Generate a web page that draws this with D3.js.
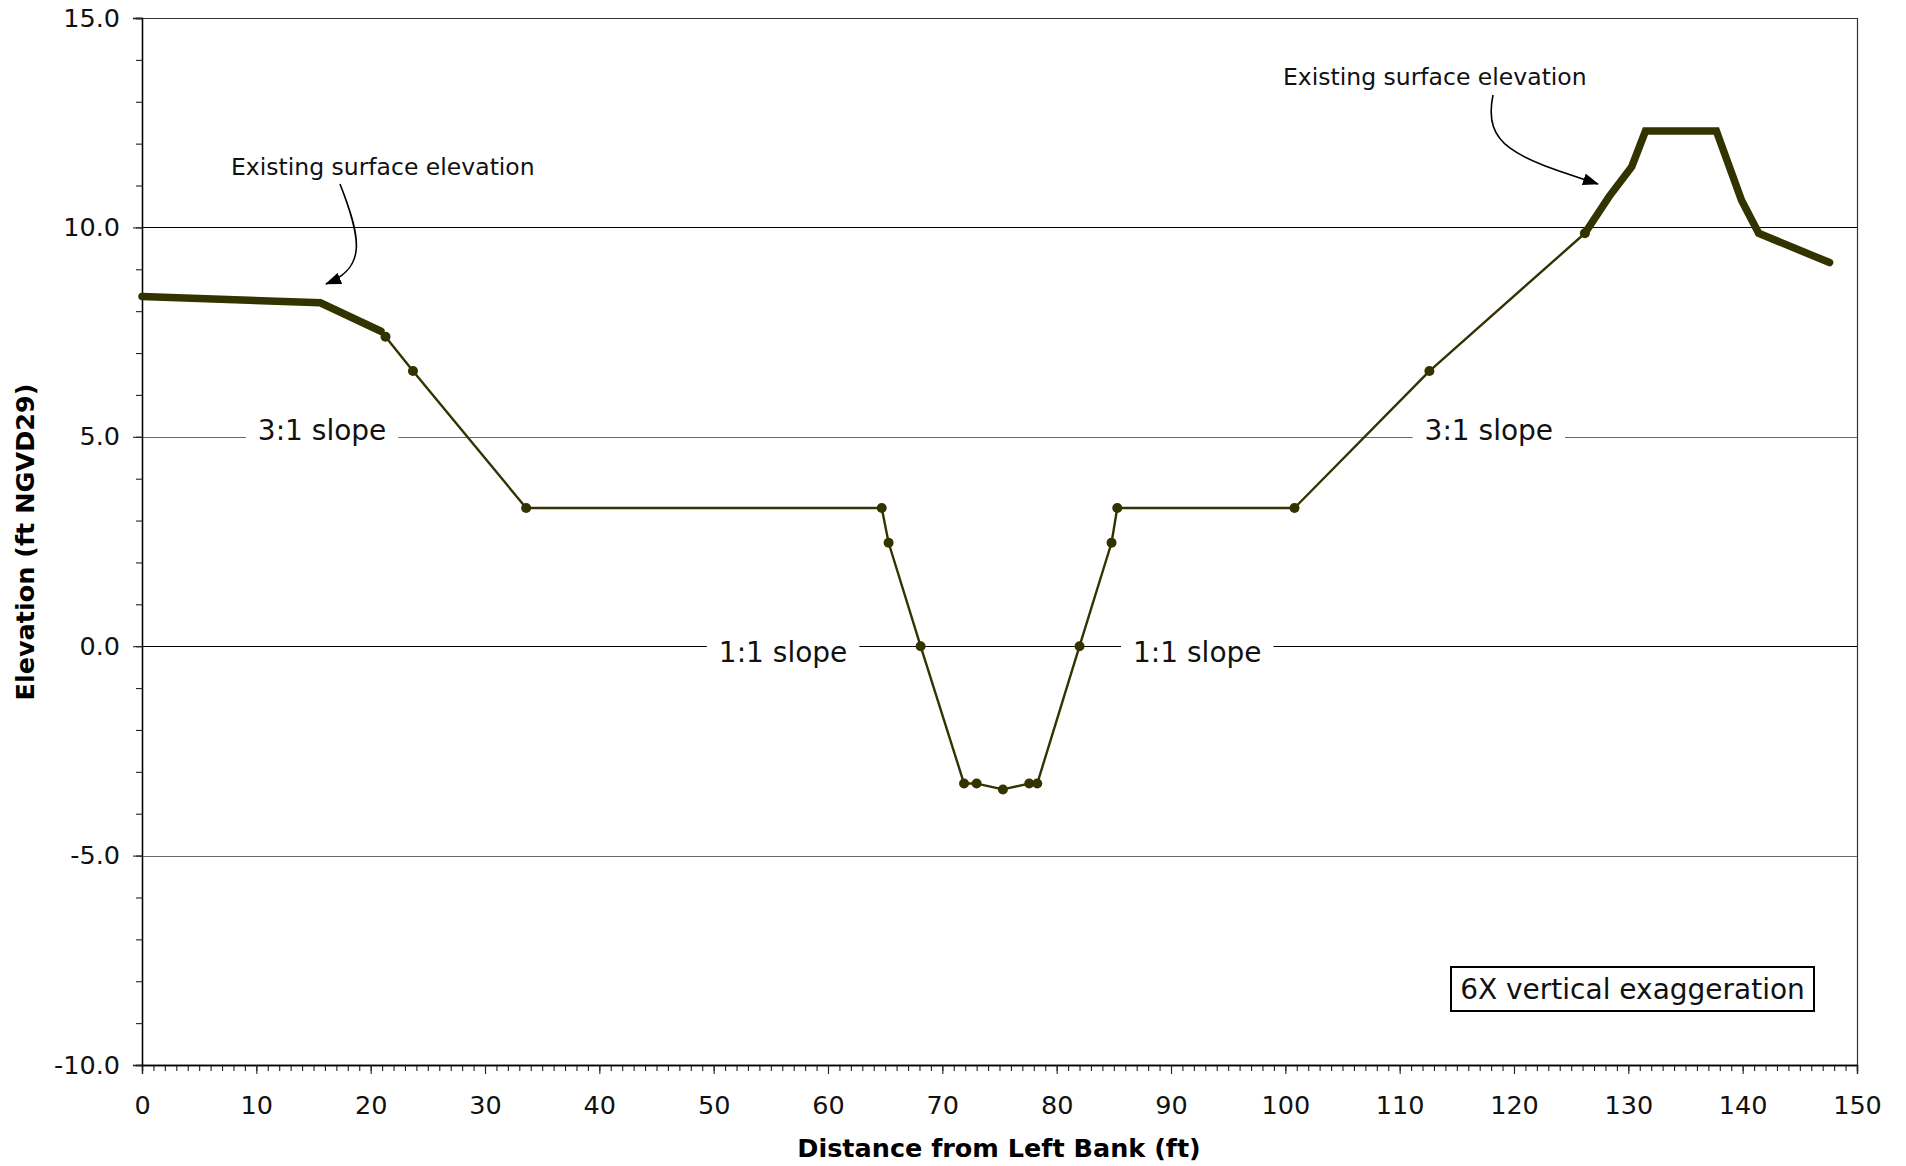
<!DOCTYPE html>
<html>
<head>
<meta charset="utf-8">
<script src="https://cdn.jsdelivr.net/npm/d3@7"></script>
<style>
  html, body { margin: 0; padding: 0; background: #fff; }
  svg { display: block; font-family: "DejaVu Sans", Verdana, sans-serif; }
</style>
</head>
<body>
<svg id="chart" width="1906" height="1166"></svg>
<script>
// ---- Data ----
const existingLeftX  = [0, 15.6, 20.9];
const existingLeftY  = [8.35, 8.2, 7.52];
const existingRightX = [126.2, 128.3, 130.3, 131.5, 137.7, 139.9, 141.4, 147.6];
const existingRightY = [9.86, 10.73, 11.45, 12.3, 12.3, 10.65, 9.86, 9.16];
const designX = [21.3, 23.7, 33.6, 64.7, 65.3, 68.1, 71.9, 73.0, 75.3, 77.6, 78.3, 82.0, 84.8, 85.3, 100.8, 112.6, 126.2];
const designY = [7.39, 6.57, 3.3, 3.3, 2.47, 0, -3.28, -3.28, -3.42, -3.28, -3.28, 0, 2.47, 3.3, 3.3, 6.57, 9.86];
const xMajorTicks = [0, 10, 20, 30, 40, 50, 60, 70, 80, 90, 100, 110, 120, 130, 140, 150];
const yMajorTicks = [-10, -5, 0, 5, 10, 15];
const gridValues = [10, 5, 0, -5];
const slopeLabels = ["3:1 slope", "3:1 slope", "1:1 slope", "1:1 slope"];
const slopeLabelX = [15.75, 117.8, 56.07, 92.3];
const slopeLabelY = [5, 5, 0, 0];
const annotationText = "Existing surface elevation";
const noteText = "6X vertical exaggeration";

// ---- Layout ----
const M = {left: 142, right: 1857, top: 18, bottom: 1065};
const svg = d3.select("#chart");
const x = d3.scaleLinear().domain([0, 150]).range([M.left, M.right]);
const y = d3.scaleLinear().domain([-10, 15]).range([M.bottom, M.top]);
const lineColor = "#333300";

// plot border (top, right)
svg.append("path")
  .attr("d", `M${M.left},${M.top + 0.5}H${M.right + 0.5}V${M.bottom}`)
  .attr("fill", "none").attr("stroke", "#333").attr("stroke-width", 1.2);

// gridlines
svg.append("g").selectAll("line").data(gridValues).join("line")
  .attr("x1", M.left).attr("x2", M.right)
  .attr("y1", d => Math.round(y(d)) + 0.5).attr("y2", d => Math.round(y(d)) + 0.5)
  .attr("stroke", d => (d === 10 || d === 0) ? "#000" : "#6a6a6a")
  .attr("stroke-width", 1.1);

// slope labels with white backgrounds
const lblG = svg.append("g");
slopeLabels.forEach((t, i) => {
  const g = lblG.append("g");
  const txt = g.append("text")
    .attr("x", x(slopeLabelX[i]))
    .attr("y", y(slopeLabelY[i]) + (slopeLabelY[i] === 5 ? 3 : 16))
    .attr("text-anchor", "middle")
    .attr("font-size", 28).attr("fill", "#111").text(t);
  const bb = txt.node().getBBox();
  g.insert("rect", "text")
    .attr("x", bb.x - 12).attr("width", bb.width + 24)
    .attr("y", y(slopeLabelY[i]) - 4).attr("height", 8)
    .attr("fill", "#fff");
});

// axes
const fmtY = d => d3.format(".1f")(d).replace("\u2212", "-");
const xMinor = d3.axisBottom(x).tickValues(d3.range(0, 151, 1)).tickSize(6).tickFormat("");
const xMajor = d3.axisBottom(x).tickValues(xMajorTicks).tickSize(9).tickPadding(22).tickFormat(d3.format("d"));
const yMinor = d3.axisLeft(y).tickValues(d3.range(-10, 16, 1)).tickSize(6).tickFormat("");
const yMajor = d3.axisLeft(y).tickValues(yMajorTicks).tickSize(9).tickPadding(13).tickFormat(fmtY);

function styleAxis(g) {
  g.selectAll("path.domain").attr("stroke", "#000").attr("stroke-width", 1.3);
  g.selectAll(".tick line").attr("stroke", "#222").attr("stroke-width", 1.1);
  g.selectAll("text").attr("font-size", 25.5).attr("fill", "#111")
    .attr("font-family", "DejaVu Sans, Verdana, sans-serif");
}
svg.append("g").attr("transform", `translate(0,${M.bottom})`).call(xMinor).call(styleAxis);
svg.append("g").attr("transform", `translate(0,${M.bottom})`).call(xMajor).call(styleAxis);
svg.append("g").attr("transform", `translate(${M.left},0)`).call(yMinor).call(styleAxis);
svg.append("g").attr("transform", `translate(${M.left},0)`).call(yMajor).call(styleAxis);

// axis titles
svg.append("text").attr("x", 999).attr("y", 1157).attr("text-anchor", "middle")
  .attr("font-size", 25.5).attr("font-weight", "bold").attr("fill", "#000")
  .text("Distance from Left Bank (ft)");
svg.append("text").attr("transform", "translate(34,542) rotate(-90)").attr("text-anchor", "middle")
  .attr("font-size", 25.5).attr("font-weight", "bold").attr("fill", "#000")
  .text("Elevation (ft NGVD29)");

// lines
const line = d3.line().x(d => x(d[0])).y(d => y(d[1]));
const designPts = designX.map((v, i) => [v, designY[i]]);
const exL = existingLeftX.map((v, i) => [v, existingLeftY[i]]);
const exR = existingRightX.map((v, i) => [v, existingRightY[i]]);

svg.append("path").attr("d", line(designPts)).attr("fill", "none")
  .attr("stroke", lineColor).attr("stroke-width", 2.4).attr("stroke-linejoin", "round");
[exL, exR].forEach(pts => {
  svg.append("path").attr("d", line(pts)).attr("fill", "none")
    .attr("stroke", lineColor).attr("stroke-width", 7.5)
    .attr("stroke-linecap", "round").attr("stroke-linejoin", "miter");
});
svg.append("g").selectAll("circle").data(designPts).join("circle")
  .attr("cx", d => x(d[0])).attr("cy", d => y(d[1])).attr("r", 5).attr("fill", lineColor);

// annotations with arrows
const defs = svg.append("defs");
defs.append("marker").attr("id", "arrow").attr("viewBox", "0 0 16 12")
  .attr("refX", 15).attr("refY", 6).attr("markerWidth", 16).attr("markerHeight", 12)
  .attr("markerUnits", "userSpaceOnUse").attr("orient", "auto")
  .append("path").attr("d", "M0,0 L16,6 L0,12 Z").attr("fill", "#000");

svg.append("text").attr("x", 231).attr("y", 175).attr("font-size", 23.5).attr("fill", "#111").text(annotationText);
svg.append("path").attr("d", "M340,184 C362,240 366,268 326,284")
  .attr("fill", "none").attr("stroke", "#000").attr("stroke-width", 1.6).attr("marker-end", "url(#arrow)");

svg.append("text").attr("x", 1283).attr("y", 85).attr("font-size", 23.5).attr("fill", "#111").text(annotationText);
svg.append("path").attr("d", "M1493,95 C1482,148 1520,158 1598,184")
  .attr("fill", "none").attr("stroke", "#000").attr("stroke-width", 1.6).attr("marker-end", "url(#arrow)");

// note box
svg.append("rect").attr("x", 1451).attr("y", 967).attr("width", 363).attr("height", 44)
  .attr("fill", "#fff").attr("stroke", "#000").attr("stroke-width", 2);
svg.append("text").attr("x", 1632.5).attr("y", 999).attr("text-anchor", "middle")
  .attr("font-size", 28).attr("fill", "#111").text(noteText);
</script>
</body>
</html>
